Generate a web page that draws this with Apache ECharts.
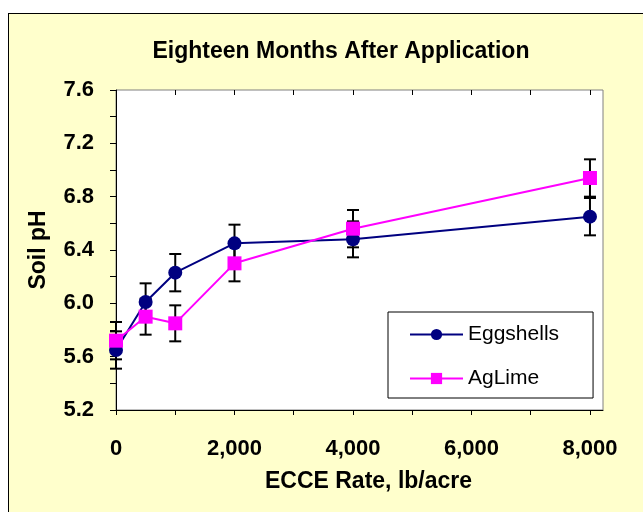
<!DOCTYPE html>
<html>
<head>
<meta charset="utf-8">
<script src="https://cdn.jsdelivr.net/npm/echarts@6/dist/echarts.min.js"></script>
<style>
  body { margin: 0; background: #fff; }
  #wrap { position: relative; width: 643px; height: 512px; overflow: hidden; }
  #frame { position: absolute; left: 8px; top: 13px; width: 700px; height: 600px;
           background: #ffffcc; border: 1px solid #000; }
  #chart { position: absolute; left: 0; top: 0; width: 643px; height: 512px; }
</style>
</head>
<body>
<div id="wrap">
  <div id="frame"></div>
  <div id="chart"></div>
</div>
<script>
// ECCE rate, lb/acre
const rates = [0, 500, 1000, 2000, 4000, 8000];
const eggshells = [5.65, 6.01, 6.23, 6.45, 6.48, 6.65];
const eggErr = [0.14, 0.14, 0.14, 0.14, 0.135, 0.14];
const aglime = [5.72, 5.90, 5.85, 6.30, 6.56, 6.94];
const limeErr = [0.14, 0.135, 0.135, 0.135, 0.14, 0.14];

const xTicks = [0, 1000, 2000, 3000, 4000, 5000, 6000, 7000, 8000];
const xLabels = [0, 2000, 4000, 6000, 8000];
const yTicks = [5.2, 5.4, 5.6, 5.8, 6.0, 6.2, 6.4, 6.6, 6.8, 7.0, 7.2, 7.4, 7.6];
const yLabels = [5.2, 5.6, 6.0, 6.4, 6.8, 7.2, 7.6];

const font = '"Liberation Sans", Arial, sans-serif';
const chart = echarts.init(document.getElementById('chart'));

function pairs(ys) {
    return rates.map((x, i) => [x, ys[i]]);
}
function errData(ys, errs) {
    return rates.map((x, i) => [x, ys[i] - errs[i], ys[i] + errs[i]]);
}

function renderErr(params, api) {
    const lo = api.coord([api.value(0), api.value(1)]);
    const hi = api.coord([api.value(0), api.value(2)]);
    const w = 6;
    const style = { stroke: '#000', lineWidth: 2 };
    return {
        type: 'group',
        children: [
            { type: 'line', shape: { x1: lo[0], y1: lo[1], x2: hi[0], y2: hi[1] }, style },
            { type: 'line', shape: { x1: lo[0] - w, y1: lo[1], x2: lo[0] + w, y2: lo[1] }, style },
            { type: 'line', shape: { x1: hi[0] - w, y1: hi[1], x2: hi[0] + w, y2: hi[1] }, style }
        ]
    };
}

const xCommon = {
    type: 'value', min: 0, max: 8220,
    splitLine: { show: false }
};

chart.setOption({
    backgroundColor: 'transparent',
    animation: false,
    textStyle: { fontFamily: font },
    title: {
        text: 'Eighteen Months After Application',
        left: 336, top: 35, textAlign: 'center',
        textStyle: { fontSize: 23, fontWeight: 'bold', color: '#000', fontFamily: font }
    },
    grid: {
        left: 116, top: 90, width: 487, height: 320,
        show: true, backgroundColor: '#fff', borderColor: '#808080', borderWidth: 1
    },
    legend: {
        orient: 'vertical', left: 388, top: 312,
        backgroundColor: '#fff', borderColor: '#000', borderWidth: 1, borderRadius: 0,
        padding: [12, 34, 9, 21],
        itemWidth: 53, itemHeight: 14, itemGap: 23,
        textStyle: { fontSize: 21, color: '#000', fontFamily: font },
        data: ['Eggshells', 'AgLime']
    },
    xAxis: [
        Object.assign({}, xCommon, {
            name: 'ECCE Rate, lb/acre', nameLocation: 'middle', nameGap: 60,
            nameTextStyle: { fontSize: 23, fontWeight: 'bold', color: '#000', padding: [0, 0, 0, 18] },
            axisLine: { lineStyle: { color: '#000', width: 1 } },
            axisTick: { customValues: xTicks, length: 5, lineStyle: { color: '#000' } },
            axisLabel: {
                customValues: xLabels, margin: 28,
                fontSize: 22, fontWeight: 'bold', color: '#000',
                formatter: v => v.toLocaleString('en-US')
            }
        }),
        Object.assign({}, xCommon, {
            axisLine: { show: false },
            axisTick: { customValues: xTicks, inside: true, length: 5, lineStyle: { color: '#000' } },
            axisLabel: { show: false }
        })
    ],
    yAxis: {
        type: 'value', min: 5.2, max: 7.6, interval: 0.4,
        name: 'Soil pH', nameLocation: 'middle', nameGap: 66, nameRotate: 90,
        nameTextStyle: { fontSize: 23, fontWeight: 'bold', color: '#000' },
        splitLine: { show: false },
        axisLine: { show: true, lineStyle: { color: '#000', width: 1 } },
        axisTick: { show: true, customValues: yTicks, length: 6, lineStyle: { color: '#000' } },
        axisLabel: {
            customValues: yLabels, margin: 22,
            fontSize: 22, fontWeight: 'bold', color: '#000',
            formatter: v => v.toFixed(1)
        }
    },
    series: [
        {
            type: 'custom', name: 'eggErr', renderItem: renderErr, z: 1,
            encode: { x: 0, y: [1, 2] }, data: errData(eggshells, eggErr)
        },
        {
            type: 'custom', name: 'limeErr', renderItem: renderErr, z: 1,
            encode: { x: 0, y: [1, 2] }, data: errData(aglime, limeErr)
        },
        {
            name: 'Eggshells', type: 'line', z: 3,
            data: pairs(eggshells),
            symbol: 'circle', symbolSize: 14,
            lineStyle: { color: '#000080', width: 2 },
            itemStyle: { color: '#000080' }
        },
        {
            name: 'AgLime', type: 'line', z: 3,
            data: pairs(aglime),
            symbol: 'rect', symbolSize: 14,
            lineStyle: { color: '#ff00ff', width: 2 },
            itemStyle: { color: '#ff00ff' }
        }
    ]
});
</script>
</body>
</html>
